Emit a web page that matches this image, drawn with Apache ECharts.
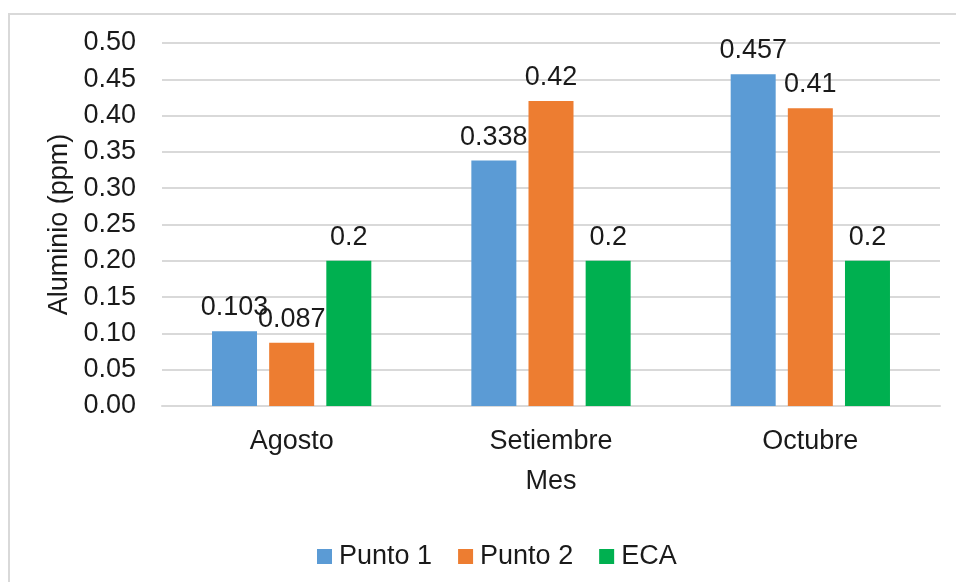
<!DOCTYPE html>
<html>
<head>
<meta charset="utf-8">
<script src="https://cdn.jsdelivr.net/npm/echarts@6/dist/echarts.min.js"></script>
<style>
  html, body { margin: 0; padding: 0; background: #ffffff; }
  #chart { width: 956px; height: 582px; }
</style>
</head>
<body>
<div id="chart"></div>
<script>
// Aluminium concentration per sampling month
const months = ['Agosto', 'Setiembre', 'Octubre'];
const punto1 = [0.103, 0.338, 0.457];
const punto2 = [0.087, 0.42, 0.41];
const eca = [0.2, 0.2, 0.2];
const yTicks = { min: 0, max: 0.5, interval: 0.05 };

const FONT = '"Liberation Sans", Arial, sans-serif';
const TEXT = '#1a1a1a';
const SIZE = 27;

function barSeries(name, data, color) {
  return {
    name: name,
    type: 'bar',
    data: data,
    barWidth: 45,
    barGap: '27%',
    itemStyle: { color: color },
    label: {
      show: true,
      position: 'top',
      distance: 10,
      fontFamily: FONT,
      fontSize: SIZE,
      color: TEXT,
      formatter: p => String(p.value)
    }
  };
}

const chart = echarts.init(document.getElementById('chart'), null, { renderer: 'canvas' });
chart.setOption({
  backgroundColor: '#ffffff',
  animation: false,
  textStyle: { fontFamily: FONT },
  graphic: [{
    type: 'rect',
    shape: { x: 9, y: 14, width: 1000, height: 1000 },
    style: { fill: 'none', stroke: '#d9d9d9', lineWidth: 2 },
    silent: true
  }],
  grid: { left: 162, right: 16, top: 43, bottom: 176 },
  legend: {
    data: ['Punto 1', 'Punto 2', 'ECA'],
    left: 312,
    top: 538,
    itemWidth: 15,
    itemHeight: 15,
    itemGap: 26,
    icon: 'rect',
    textStyle: { fontFamily: FONT, fontSize: SIZE, color: TEXT, padding: [0, 0, 0, 2] }
  },
  xAxis: {
    type: 'category',
    data: months,
    name: 'Mes',
    nameLocation: 'middle',
    nameGap: 62,
    nameTextStyle: { fontFamily: FONT, fontSize: SIZE, color: TEXT },
    axisLine: { show: true, lineStyle: { color: '#d9d9d9', width: 2 } },
    axisTick: { show: false },
    axisLabel: { fontFamily: FONT, fontSize: SIZE, color: TEXT, margin: 22 }
  },
  yAxis: {
    type: 'value',
    min: yTicks.min,
    max: yTicks.max,
    interval: yTicks.interval,
    name: 'Aluminio (ppm)',
    nameLocation: 'middle',
    nameGap: 88,
    nameTextStyle: { fontFamily: FONT, fontSize: SIZE, color: TEXT },
    axisLine: { show: false },
    axisTick: { show: false },
    splitLine: { lineStyle: { color: '#d9d9d9', width: 2 } },
    axisLabel: {
      fontFamily: FONT, fontSize: SIZE, color: TEXT, margin: 26,
      formatter: v => v.toFixed(2)
    }
  },
  series: [
    barSeries('Punto 1', punto1, '#5b9bd5'),
    barSeries('Punto 2', punto2, '#ed7d31'),
    barSeries('ECA', eca, '#00b050')
  ]
});
</script>
</body>
</html>
